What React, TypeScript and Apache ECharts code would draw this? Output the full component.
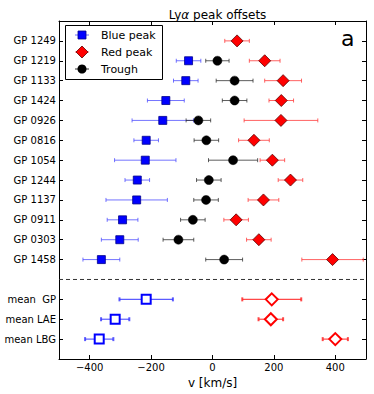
import React, { useEffect, useRef } from "react";
import * as echarts from "echarts";

// ---- data ----
const gpNames = ["GP 1249", "GP 1219", "GP 1133", "GP 1424", "GP 0926", "GP 0816", "GP 1054", "GP 1244", "GP 1137", "GP 0911", "GP 0303", "GP 1458"];
const bluePeak: (number | null)[] = [null, -78, -87, -152, -162, -216, -219, -245, -247, -293, -302, -362];
const blueErr: (number | null)[] = [null, 40, 40, 60, 100, 40, 100, 40, 100, 50, 60, 60];
const redPeak: (number | null)[] = [80, 170, 230, 224, 223, 135, 195, 254, 166, 77, 151, 391];
const redErr: (number | null)[] = [40, 50, 60, 40, 120, 50, 40, 40, 50, 40, 40, 100];
const trough: (number | null)[] = [null, 16, 72, 72, -46, -20, 67, -12, -21, -64, -111, 38];
const troughErr: (number | null)[] = [null, 38, 60, 40, 40, 40, 80, 40, 40, 40, 50, 60];

const meanNames = ["mean  GP", "mean LAE", "mean LBG"];
const meanBlue = [-216, -317, -369];
const meanBlueErr = [87, 46, 46];
const meanRed = [193, 190, 400];
const meanRedErr = [96, 40, 41];

const xTicks = [-400, -200, 0, 200, 400];
const xMin = -500;
const xMax = 500;

// row positions (value axis, inverse)
const gpRows = gpNames.map((_, i) => i + 1);
const sepRow = gpNames.length + 1;
const meanRows = meanNames.map((_, i) => sepRow + 1 + i);
const yMax = meanRows[meanRows.length - 1] + 1;
const rowLabels: Record<number, string> = {};
gpRows.forEach((r, i) => (rowLabels[r] = gpNames[i]));
meanRows.forEach((r, i) => (rowLabels[r] = meanNames[i]));
const allRows = [...gpRows, ...meanRows];

function pts(vals: (number | null)[], errs: (number | null)[], rows: number[]) {
  const out: number[][] = [];
  vals.forEach((v, i) => {
    if (v !== null && errs[i] !== null) out.push([v, rows[i], errs[i] as number]);
  });
  return out;
}

const FONT = "DejaVu Sans";

function errSeries(data: number[][], color: string, width: number, capW: number, capH: number, z: number) {
  return {
    type: "custom",
    z,
    silent: true,
    data,
    encode: { x: 0, y: 1 },
    renderItem: (params: any, api: any) => {
      const c = api.value(0);
      const r = api.value(1);
      const e = api.value(2);
      const p1 = api.coord([c - e, r]);
      const p2 = api.coord([c + e, r]);
      const st = { stroke: color, lineWidth: width };
      const cs = { stroke: color, lineWidth: capW };
      return {
        type: "group",
        children: [
          { type: "line", shape: { x1: p1[0], y1: p1[1], x2: p2[0], y2: p2[1] }, style: st },
          { type: "line", shape: { x1: p1[0], y1: p1[1] - capH, x2: p1[0], y2: p1[1] + capH }, style: cs },
          { type: "line", shape: { x1: p2[0], y1: p2[1] - capH, x2: p2[0], y2: p2[1] + capH }, style: cs },
        ],
      };
    },
  };
}

export default function App() {
  const ref = useRef<HTMLDivElement>(null);
  useEffect(() => {
    if (!ref.current) return;
    const chart = echarts.init(ref.current, undefined, { renderer: "svg" });
    const blueData = pts(bluePeak, blueErr, gpRows);
    const redData = pts(redPeak, redErr, gpRows);
    const troughData = pts(trough, troughErr, gpRows);
    const mBlue = pts(meanBlue, meanBlueErr, meanRows);
    const mRed = pts(meanRed, meanRedErr, meanRows);

    const xCommon = {
      type: "value",
      min: xMin,
      max: xMax,
      splitLine: { show: false },
      axisLine: { show: true, onZero: false, lineStyle: { color: "#000", width: 1 } },
      axisTick: { show: true, inside: true, length: 4, customValues: xTicks, lineStyle: { color: "#000" } },
    };
    const yCommon = {
      type: "value",
      min: 0,
      max: yMax,
      inverse: true,
      splitLine: { show: false },
      axisLine: { show: true, onZero: false, lineStyle: { color: "#000", width: 1 } },
      axisTick: { show: true, inside: true, length: 4, customValues: allRows, lineStyle: { color: "#000" } },
    };

    const legendX = 65, legendY = 25;
    const legendRows = [
      { y: 35, label: "Blue peak" },
      { y: 52, label: "Red peak" },
      { y: 69, label: "Trough" },
    ];

    chart.setOption({
      animation: false,
      title: {
        text: "Ly{a|α} peak offsets",
        left: 212.5,
        top: 4,
        textAlign: "center",
        textStyle: {
          fontFamily: FONT,
          fontSize: 12,
          fontWeight: "normal",
          color: "#000",
          rich: { a: { fontFamily: FONT, fontSize: 12, fontStyle: "italic", color: "#000" } },
        },
      },
      grid: { left: 59, right: 8, top: 21, bottom: 33 },
      xAxis: [
        {
          ...xCommon,
          position: "bottom",
          name: "v [km/s]",
          nameLocation: "middle",
          nameGap: 18,
          nameTextStyle: { fontFamily: FONT, fontSize: 12, color: "#000" },
          axisLabel: {
            show: true,
            customValues: xTicks,
            fontFamily: FONT,
            fontSize: 10,
            color: "#000",
            margin: 3,
            formatter: (v: number) => (v < 0 ? "\u2212" + Math.abs(v) : String(v)),
          },
        },
        { ...xCommon, position: "top", axisLabel: { show: false } },
      ],
      yAxis: [
        {
          ...yCommon,
          position: "left",
          axisLabel: {
            show: true,
            customValues: allRows,
            fontFamily: FONT,
            fontSize: 10,
            color: "#000",
            margin: 3,
            formatter: (v: number) => rowLabels[v] ?? "",
          },
        },
        { ...yCommon, position: "right", axisLabel: { show: false } },
      ],
      series: [
        {
          type: "custom",
          silent: true,
          z: 1,
          data: [[xMin, sepRow, xMax]],
          encode: { x: [0, 2], y: 1 },
          renderItem: (params: any, api: any) => {
            const p1 = api.coord([api.value(0), api.value(1)]);
            const p2 = api.coord([api.value(2), api.value(1)]);
            return {
              type: "line",
              shape: { x1: p1[0], y1: p1[1], x2: p2[0], y2: p2[1] },
              style: { stroke: "#333", lineWidth: 1, lineDash: [4, 3] },
            };
          },
        },
        errSeries(blueData, "rgba(70,70,255,0.75)", 1, 1, 2, 2),
        errSeries(troughData, "rgba(40,40,40,0.75)", 1, 1, 2, 2),
        errSeries(redData, "rgba(255,60,60,0.8)", 1, 1, 2, 2),
        errSeries(mBlue, "rgba(50,50,255,0.8)", 1.2, 2, 2, 2),
        errSeries(mRed, "rgba(255,40,40,0.85)", 1.2, 2, 2, 2),
        {
          type: "scatter",
          z: 5,
          data: blueData.map((d) => [d[0], d[1]]),
          symbol: "rect",
          symbolSize: 8,
          itemStyle: { color: "#0000ff", borderColor: "#00008b", borderWidth: 0.8, opacity: 1 },
        },
        {
          type: "scatter",
          z: 5,
          data: troughData.map((d) => [d[0], d[1]]),
          symbol: "circle",
          symbolSize: 9,
          itemStyle: { color: "#000", borderColor: "#000", borderWidth: 0.5, opacity: 1 },
        },
        {
          type: "scatter",
          z: 5,
          data: redData.map((d) => [d[0], d[1]]),
          symbol: "diamond",
          symbolSize: 12,
          itemStyle: { color: "#ff0000", borderColor: "#5a0000", borderWidth: 0.8, opacity: 1 },
        },
        {
          type: "scatter",
          z: 5,
          data: mBlue.map((d) => [d[0], d[1]]),
          symbol: "rect",
          symbolSize: 9,
          itemStyle: { color: "#fff", borderColor: "#0000ff", borderWidth: 2, opacity: 1 },
        },
        {
          type: "scatter",
          z: 5,
          data: mRed.map((d) => [d[0], d[1]]),
          symbol: "diamond",
          symbolSize: 12,
          itemStyle: { color: "#fff", borderColor: "#ff0000", borderWidth: 2, opacity: 1 },
        },
      ],
      graphic: [
        {
          type: "text",
          left: 341,
          top: 27,
          z: 10,
          style: { text: "a", fontFamily: FONT, fontSize: 22, fill: "#000" },
        },
        {
          type: "group",
          z: 20,
          children: [
            {
              type: "rect",
              shape: { x: legendX + 0.5, y: legendY + 0.5, width: 97, height: 54 },
              style: { fill: "#fff", stroke: "#000", lineWidth: 1 },
            },
            ...legendRows.map((r, i) => ({
              type: "line",
              shape: { x1: 75, y1: r.y, x2: 89, y2: r.y },
              style: { stroke: i === 0 ? "rgba(70,70,255,0.8)" : i === 1 ? "rgba(255,60,60,0.8)" : "#333", lineWidth: 1 },
            })),
            {
              type: "rect",
              shape: { x: 78, y: 31, width: 8, height: 8 },
              style: { fill: "#0000ff", stroke: "#00008b", lineWidth: 0.8 },
            },
            {
              type: "polygon",
              shape: { points: [[82, 46], [88, 52], [82, 58], [76, 52]] },
              style: { fill: "#ff0000", stroke: "#5a0000", lineWidth: 0.8 },
            },
            {
              type: "circle",
              shape: { cx: 82, cy: 69, r: 4.5 },
              style: { fill: "#000" },
            },
            ...legendRows.map((r) => ({
              type: "text",
              x: 101,
              y: r.y,
              style: { text: r.label, fontFamily: FONT, fontSize: 11, fill: "#000", verticalAlign: "middle", align: "left" },
            })),
          ],
        },
      ],
    });
    return () => chart.dispose();
  }, []);
  return <div ref={ref} style={{ width: 374, height: 394, position: "absolute", left: 0, top: 0 }} />;
}
